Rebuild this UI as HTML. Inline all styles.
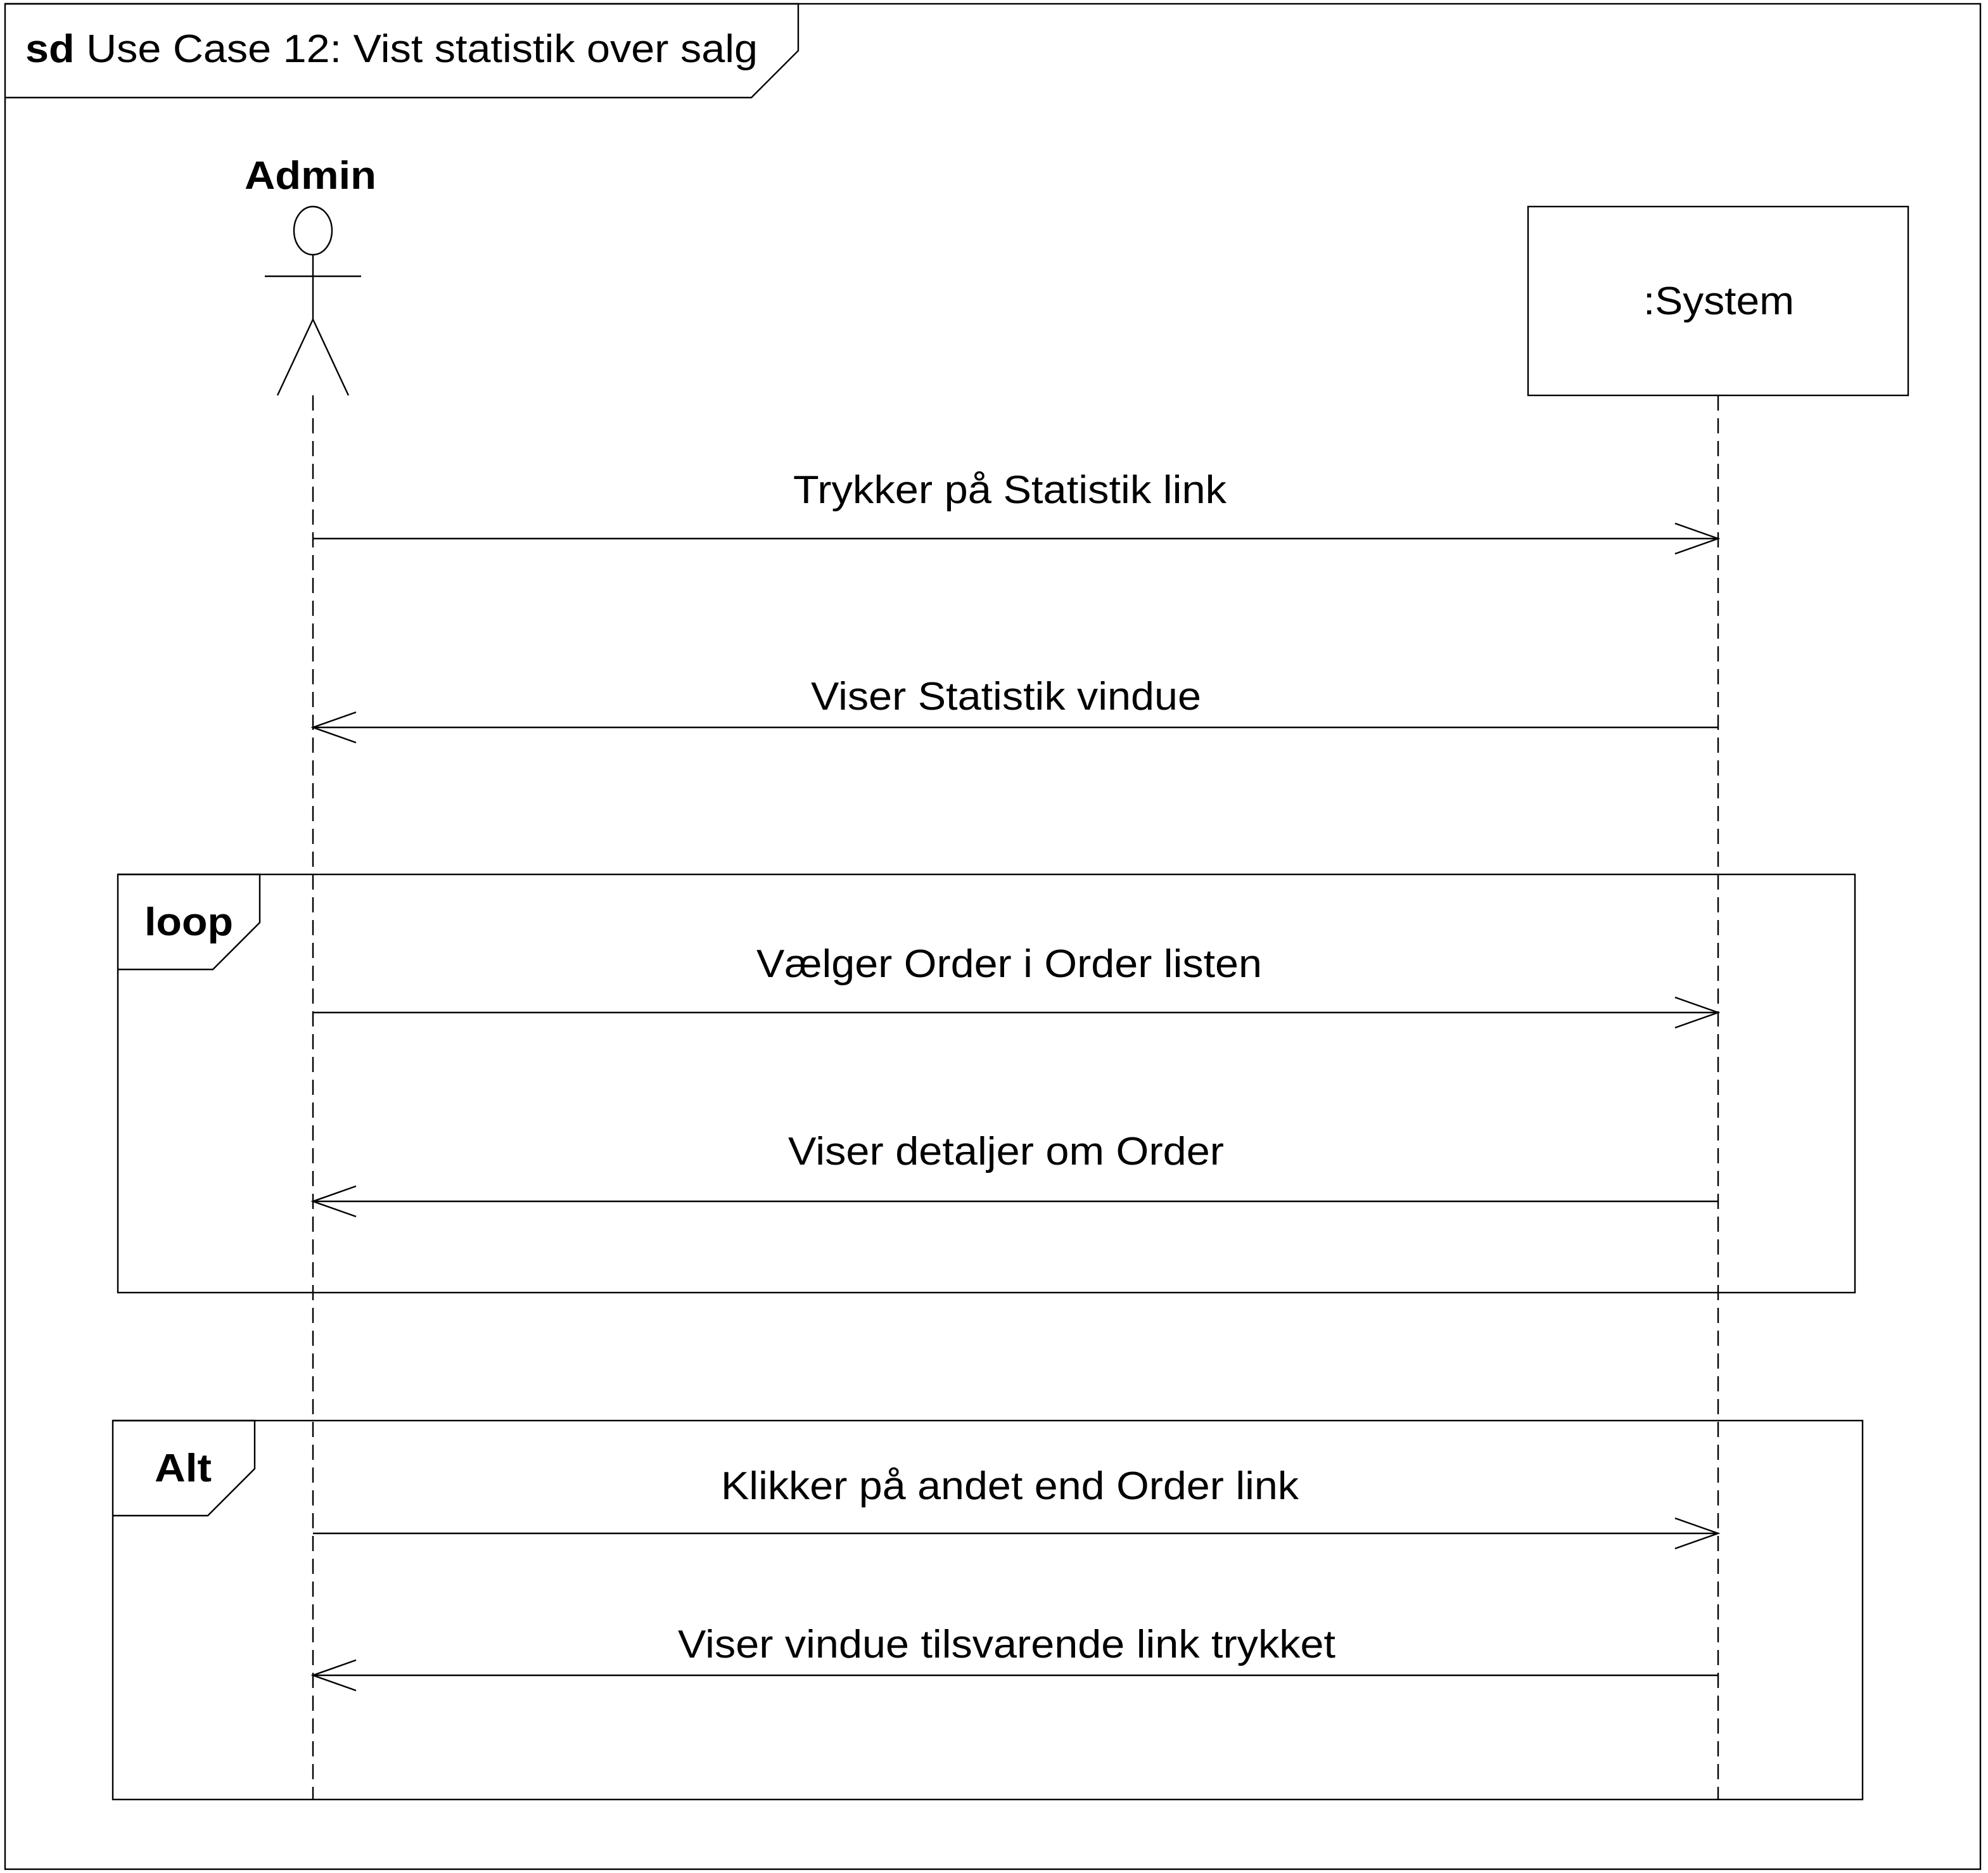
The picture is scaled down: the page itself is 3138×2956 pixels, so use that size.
<!DOCTYPE html>
<html><head><meta charset="utf-8"><style>
html,body{margin:0;padding:0;background:#fff;}
svg{display:block;}
text{font-family:"Liberation Sans",Arial,sans-serif;fill:#000;}
</style></head><body>
<svg width="3138" height="2956" viewBox="0 0 1569 1478" xmlns="http://www.w3.org/2000/svg">
<g fill="none" stroke="#000" stroke-width="1.2">
<rect x="4" y="3" width="1559" height="1472"/>
<polyline points="4,3 630,3 630,40 593,77 4,77"/>
<!-- actor -->
<ellipse cx="247" cy="182" rx="15" ry="19"/>
<line x1="247" y1="201" x2="247" y2="252"/>
<line x1="209" y1="218" x2="285" y2="218"/>
<line x1="247" y1="252" x2="219" y2="312"/>
<line x1="247" y1="252" x2="275" y2="312"/>
<!-- system -->
<rect x="1206" y="163" width="300" height="149"/>
<!-- lifelines -->
<line x1="247" y1="312" x2="247" y2="1420" stroke-dasharray="12,6"/>
<line x1="1356" y1="312" x2="1356" y2="1420" stroke-dasharray="12,6"/>
<!-- frames -->
<rect x="93" y="690" width="1371" height="330"/>
<polyline points="93,690 205,690 205,728 168,765 93,765"/>
<rect x="89" y="1121" width="1381" height="299"/>
<polyline points="89,1121 201,1121 201,1159 164,1196 89,1196"/>
<!-- messages -->
<line x1="247" y1="425" x2="1356" y2="425"/><polyline points="1322,413 1356,425 1322,437"/>
<line x1="247" y1="574" x2="1356" y2="574"/><polyline points="281,562 247,574 281,586"/>
<line x1="247" y1="799" x2="1356" y2="799"/><polyline points="1322,787 1356,799 1322,811"/>
<line x1="247" y1="948" x2="1356" y2="948"/><polyline points="281,936 247,948 281,960"/>
<line x1="247" y1="1210" x2="1356" y2="1210"/><polyline points="1322,1198 1356,1210 1322,1222"/>
<line x1="247" y1="1322" x2="1356" y2="1322"/><polyline points="281,1310 247,1322 281,1334"/>
</g>
<g font-size="31">
<text x="20" y="49" textLength="578" lengthAdjust="spacingAndGlyphs"><tspan font-weight="bold">sd</tspan> Use Case 12: Vist statistik over salg</text>
<text x="193" y="149" font-weight="bold" textLength="104" lengthAdjust="spacingAndGlyphs">Admin</text>
<text x="1297" y="248" textLength="119" lengthAdjust="spacingAndGlyphs">:System</text>
<text x="626" y="397" textLength="342" lengthAdjust="spacingAndGlyphs">Trykker på Statistik link</text>
<text x="640" y="560" textLength="308" lengthAdjust="spacingAndGlyphs">Viser Statistik vindue</text>
<text x="114" y="738" font-weight="bold" textLength="70" lengthAdjust="spacingAndGlyphs">loop</text>
<text x="597" y="771" textLength="399" lengthAdjust="spacingAndGlyphs">Vælger Order i Order listen</text>
<text x="622" y="919" textLength="344" lengthAdjust="spacingAndGlyphs">Viser detaljer om Order</text>
<text x="122" y="1169" font-weight="bold" textLength="45" lengthAdjust="spacingAndGlyphs">Alt</text>
<text x="569" y="1183" textLength="456" lengthAdjust="spacingAndGlyphs">Klikker på andet end Order link</text>
<text x="535" y="1308" textLength="519" lengthAdjust="spacingAndGlyphs">Viser vindue tilsvarende link trykket</text>
</g>
</svg>
</body></html>
